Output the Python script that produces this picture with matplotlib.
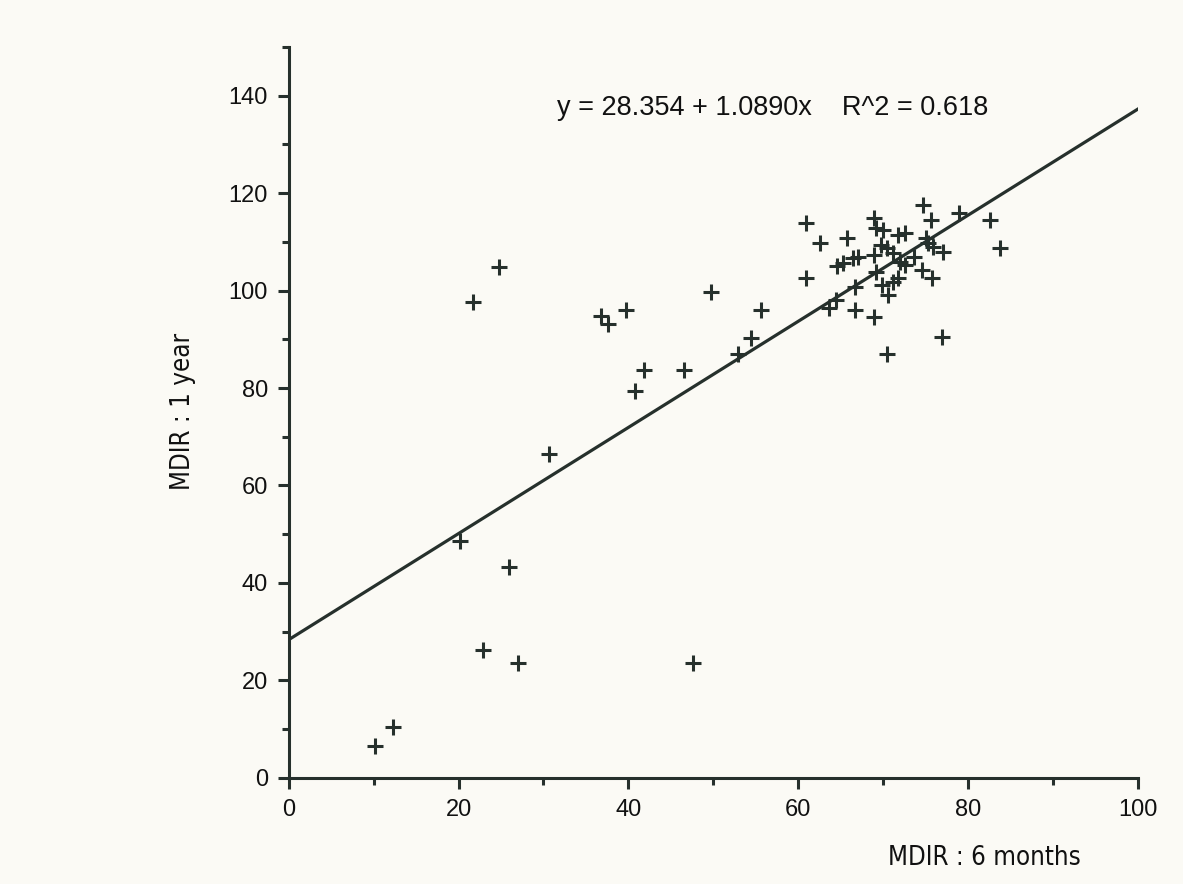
import matplotlib
matplotlib.use("Agg")
import matplotlib.pyplot as plt
import numpy as np

# MDIR scores: 6 months (x) vs 1 year (y)
mdir_6m = [10.2, 12.3, 20.2, 22.9, 26.0, 27.0, 30.7, 21.7, 24.8, 36.8,
           37.6, 39.7, 40.8, 41.8, 46.5, 47.6, 49.7, 52.9, 54.4, 55.6,
           60.9, 60.9, 62.5, 65.7, 64.6, 65.3, 66.4, 67.0, 66.7, 64.4,
           63.6, 66.7, 68.9, 76.9, 70.5, 68.9, 69.1, 70.0, 71.7, 72.6,
           69.7, 68.9, 70.5, 71.1, 72.0, 73.6, 72.6, 69.1, 71.7, 71.2,
           69.9, 70.6, 74.6, 75.8, 74.7, 75.6, 75.0, 75.3, 75.9, 77.0,
           78.9, 82.6, 83.8]
mdir_1y = [6.6, 10.5, 48.6, 26.3, 43.3, 23.6, 66.5, 97.6, 104.8, 94.8,
           93.1, 96.0, 79.4, 83.7, 83.7, 23.6, 99.7, 87.0, 90.3, 96.0,
           113.8, 102.6, 109.7, 110.8, 105.0, 105.6, 106.7, 106.9, 100.7, 98.1,
           96.4, 96.0, 94.6, 90.5, 87.0, 114.9, 112.8, 112.4, 111.4, 111.8,
           109.3, 107.3, 108.7, 107.7, 105.8, 106.9, 105.2, 103.8, 102.6, 101.7,
           101.1, 99.1, 104.2, 102.6, 117.5, 114.5, 110.8, 109.7, 108.9, 107.9,
           115.9, 114.5, 108.7]

intercept = 28.354
slope = 1.0890
r2 = 0.618

ink = "#26302c"
paper = "#fbfaf5"
font = ["Liberation Sans", "DejaVu Sans"]

fig = plt.figure(figsize=(11.83, 8.84), dpi=100, facecolor=paper)
ax = fig.add_axes([0.244, 0.12, 0.718, 0.827])
ax.set_facecolor(paper)

ax.plot(mdir_6m, mdir_1y, linestyle="none", marker="+", markersize=11,
        markeredgewidth=2.2, color=ink, clip_on=False)

xs = np.array([0, 100])
ax.plot(xs, intercept + slope * xs, color=ink, linewidth=2.3)

ax.text(31.6, 137.4,
        f"y = {intercept:.3f} + {slope:.4f}x    R^2 = {r2:.3f}",
        fontsize=19.5, family=font, color="#111111", va="center")

ax.set_xlim(0, 100)
ax.set_ylim(0, 150)
ax.set_xticks(np.arange(0, 101, 20))
ax.set_xticks(np.arange(10, 100, 20), minor=True)
ax.set_yticks(np.arange(0, 141, 20))
ax.set_yticks(np.arange(10, 151, 20), minor=True)

for side in ("top", "right"):
    ax.spines[side].set_visible(False)
for side in ("left", "bottom"):
    ax.spines[side].set_linewidth(2.2)
    ax.spines[side].set_color(ink)

ax.tick_params(which="major", direction="out", length=8, width=2.2,
               color=ink, labelsize=17, labelcolor="#111111", pad=7)
ax.tick_params(which="minor", direction="out", length=5, width=2.2, color=ink)
for lab in ax.get_xticklabels() + ax.get_yticklabels():
    lab.set_family(font)

fig.text(0.832, 0.029, "MDIR : 6 months", fontsize=18.5,
         family="DejaVu Sans", fontstretch="condensed",
         color="#111111", ha="center", va="center")
fig.text(0.155, 0.535, "MDIR : 1 year", fontsize=18.5,
         family="DejaVu Sans", fontstretch="condensed",
         color="#111111", ha="center", va="center", rotation=90)

fig.savefig("out.png", dpi=100, facecolor=paper)
